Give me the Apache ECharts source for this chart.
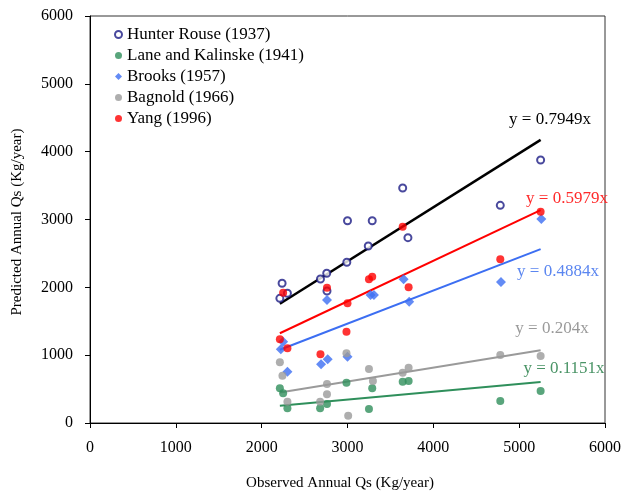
<!DOCTYPE html>
<html>
<head>
<meta charset="utf-8">
<script src="https://cdn.jsdelivr.net/npm/echarts@6/dist/echarts.min.js"></script>
<style>
html,body{margin:0;padding:0;background:#fff;}
#chart{width:624px;height:493px;}
</style>
</head>
<body>
<div id="chart"></div>
<script>
// ---- data ----
const seriesNames = ['Hunter Rouse (1937)', 'Lane and Kalinske (1941)', 'Brooks (1957)', 'Bagnold (1966)', 'Yang (1996)'];
const hunterRouse = [[2212,1838],[2238,2060],[2300,1912],[2685,2123],[2758,2207],[2761,1946],[2992,2369],[3000,2982],[3242,2609],[3288,2982],[3643,3465],[3704,2732],[4780,3209],[5250,3877]];
const laneKalinske = [[2212,512],[2250,438],[2300,217],[2681,217],[2761,280],[2988,594],[3250,206],[3288,512],[3643,609],[3712,619],[4780,324],[5250,472]];
const brooks = [[2223,1087],[2250,1199],[2300,756],[2692,865],[2761,1813],[2769,939],[3000,977],[3269,1887],[3308,1887],[3654,2119],[3719,1788],[4788,2079],[5258,3008]];
const bagnold = [[2212,895],[2242,697],[2300,314],[2681,314],[2761,423],[2761,575],[2988,1028],[3008,108],[3250,796],[3296,619],[3643,742],[3712,815],[4780,1002],[5250,988]];
const yang = [[2212,1234],[2250,1921],[2300,1101],[2685,1013],[2761,1995],[2988,1346],[3000,1765],[3250,2119],[3288,2157],[3643,2894],[3712,2000],[4780,2413],[5250,3115]];
// trend lines (start/end points of y = kx)
const trendHunter = [[2212,1758],[5250,4173]];
const trendYang = [[2212,1323],[5250,3139]];
const trendBrooks = [[2212,1080],[5250,2564]];
const trendBagnold = [[2212,451],[5250,1071]];
const trendLane = [[2212,255],[5250,604]];
const equations = ['y = 0.7949x', 'y = 0.5979x', 'y = 0.4884x', 'y = 0.204x', 'y = 0.1151x'];
const xTicks = [0,1000,2000,3000,4000,5000,6000];
const yTicks = [0,1000,2000,3000,4000,5000,6000];

const FONT = '"Liberation Serif", "Times New Roman", serif';
const cNavy = '#1c1c85', cGreen = '#2f8f5b', cBlue = '#3c6ef2', cGray = '#9a9a9a', cRed = '#ff0000';

const chart = echarts.init(document.getElementById('chart'), null, {renderer: 'canvas'});

function trend(data, color, width) {
  return {type: 'line', data: data, symbol: 'none', silent: true,
    lineStyle: {color: color, width: width}, z: 1, legendHoverLink: false};
}

const option = {
  animation: false,
  backgroundColor: '#fff',
  grid: {left: 90, right: 14, top: 16, bottom: 70, show: true, borderColor: '#333', borderWidth: 1},
  legend: {
    orient: 'vertical', left: 114, top: 24, padding: 0, itemGap: 0,
    itemWidth: 7, itemHeight: 7,
    data: seriesNames,
    textStyle: {fontFamily: FONT, fontSize: 17, color: '#000', lineHeight: 21}
  },
  xAxis: {
    type: 'value', min: xTicks[0], max: xTicks[xTicks.length - 1], interval: 1000,
    axisLine: {lineStyle: {color: '#000', width: 1}},
    axisTick: {show: true, inside: false, length: 5, lineStyle: {color: '#000'}},
    splitLine: {show: false},
    axisLabel: {fontFamily: FONT, fontSize: 16, color: '#000', margin: 17, showMaxLabel: true,
      formatter: function (v) { return String(v); }}
  },
  yAxis: {
    type: 'value', min: yTicks[0], max: yTicks[yTicks.length - 1], interval: 1000,
    axisLine: {show: true, lineStyle: {color: '#000', width: 1}},
    axisTick: {show: true, inside: false, length: 5, lineStyle: {color: '#000'}},
    splitLine: {show: false},
    axisLabel: {fontFamily: FONT, fontSize: 16, color: '#000', margin: 17,
      formatter: function (v) { return String(v); }}
  },
  series: [
    trend(trendHunter, '#000', 2.5),
    trend(trendYang, cRed, 2),
    trend(trendBrooks, cBlue, 2),
    trend(trendBagnold, cGray, 2),
    trend(trendLane, cGreen, 2),
    {name: seriesNames[0], type: 'scatter', data: hunterRouse, symbol: 'emptyCircle', symbolSize: 7,
      itemStyle: {color: cNavy, borderColor: cNavy, borderWidth: 1.4}, z: 3},
    {name: seriesNames[1], type: 'scatter', data: laneKalinske, symbol: 'circle', symbolSize: 8,
      itemStyle: {color: cGreen}, z: 3},
    {name: seriesNames[2], type: 'scatter', data: brooks, symbol: 'diamond', symbolSize: 10,
      itemStyle: {color: cBlue}, z: 3},
    {name: seriesNames[3], type: 'scatter', data: bagnold, symbol: 'circle', symbolSize: 8,
      itemStyle: {color: cGray}, z: 3},
    {name: seriesNames[4], type: 'scatter', data: yang, symbol: 'circle', symbolSize: 8,
      itemStyle: {color: cRed}, z: 3}
  ],
  graphic: [
    {type: 'text', x: 340, y: 483, style: {text: 'Observed Annual Qs (Kg/year)', font: '15px ' + FONT, fill: '#000', align: 'center', verticalAlign: 'middle'}},
    {type: 'text', x: 17, y: 222, rotation: Math.PI / 2, style: {text: 'Predicted Annual Qs (Kg/year)', font: '15px ' + FONT, fill: '#000', align: 'center', verticalAlign: 'middle'}},
    {type: 'text', x: 550, y: 120, style: {text: equations[0], font: '17px ' + FONT, fill: '#000', align: 'center', verticalAlign: 'middle'}},
    {type: 'text', x: 567, y: 199, style: {text: equations[1], font: '17px ' + FONT, fill: '#ff2a2a', align: 'center', verticalAlign: 'middle'}},
    {type: 'text', x: 558, y: 272, style: {text: equations[2], font: '17px ' + FONT, fill: '#5b86f0', align: 'center', verticalAlign: 'middle'}},
    {type: 'text', x: 552, y: 329, style: {text: equations[3], font: '17px ' + FONT, fill: '#9a9a9a', align: 'center', verticalAlign: 'middle'}},
    {type: 'text', x: 564, y: 369, style: {text: equations[4], font: '17px ' + FONT, fill: '#4a9466', align: 'center', verticalAlign: 'middle'}}
  ]
};
chart.setOption(option);
</script>
</body>
</html>
